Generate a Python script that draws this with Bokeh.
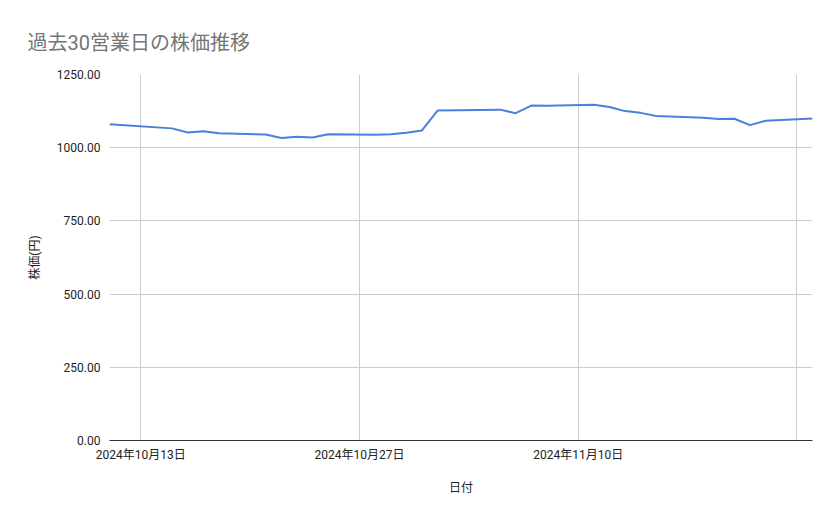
from datetime import datetime

from bokeh.embed import file_html
from bokeh.models import FixedTicker, NumeralTickFormatter, Range1d
from bokeh.plotting import figure
from bokeh.resources import INLINE

# 営業日ごとの終値
dates = [
    "2024-10-11", "2024-10-15", "2024-10-16", "2024-10-17", "2024-10-18",
    "2024-10-21", "2024-10-22", "2024-10-23", "2024-10-24", "2024-10-25",
    "2024-10-28", "2024-10-29", "2024-10-30", "2024-10-31", "2024-11-01",
    "2024-11-05", "2024-11-06", "2024-11-07", "2024-11-08", "2024-11-11",
    "2024-11-12", "2024-11-13", "2024-11-14", "2024-11-15", "2024-11-18",
    "2024-11-19", "2024-11-20", "2024-11-21", "2024-11-22", "2024-11-25",
]
prices = [
    1080, 1066, 1052, 1056, 1049,
    1045, 1033, 1037, 1035, 1046,
    1044, 1046, 1051, 1059, 1127,
    1130, 1118, 1144, 1143, 1147,
    1139, 1125, 1119, 1108, 1102,
    1098, 1099, 1077, 1092, 1100,
]

grid_dates = ["2024-10-13", "2024-10-27", "2024-11-10", "2024-11-24"]
tick_labels = ["2024年10月13日", "2024年10月27日", "2024年11月10日"]
y_ticks = [0, 250, 500, 750, 1000, 1250]

x = [datetime.strptime(d, "%Y-%m-%d") for d in dates]


def ms(d):
    return datetime.strptime(d, "%Y-%m-%d").timestamp() * 1000


FONT = "Roboto, 'Noto Sans CJK JP', sans-serif"

p = figure(
    width=831, height=511,
    x_axis_type="datetime",
    output_backend="svg", toolbar_location=None,
    min_border_left=109, min_border_right=19,
    min_border_top=74, min_border_bottom=71,
    title="過去30営業日の株価推移",
)
p.x_range = Range1d(ms("2024-10-11"), ms("2024-11-25"))
p.y_range = Range1d(0, 1250)

p.line(x, prices, line_color="#4a7fdc", line_width=2)

p.title.text_font = FONT
p.title.text_font_size = "20px"
p.title.text_font_style = "normal"
p.title.text_color = "#757575"
p.title.align = "left"
p.title.offset = -82
p.title.standoff = 39

# x軸
p.xaxis.ticker = FixedTicker(ticks=[ms(d) for d in grid_dates[:3]])
p.xaxis.major_label_overrides = {ms(d): lab for d, lab in zip(grid_dates, tick_labels)}
p.xaxis.axis_label = "日付"
p.xaxis.axis_line_color = "#333333"
p.xaxis.major_tick_line_color = None
p.xaxis.minor_tick_line_color = None
p.xaxis.major_label_standoff = 1
p.xaxis.axis_label_standoff = 16
p.xgrid.ticker = FixedTicker(ticks=[ms(d) for d in grid_dates])
p.xgrid.grid_line_color = "#cccccc"

# y軸
p.yaxis.ticker = FixedTicker(ticks=y_ticks)
p.yaxis.formatter = NumeralTickFormatter(format="0.00")
p.yaxis.axis_label = "株価(円)"
p.yaxis.axis_line_color = None
p.yaxis.major_tick_line_color = None
p.yaxis.minor_tick_line_color = None
p.yaxis.major_label_standoff = 3
p.yaxis.axis_label_standoff = 12
p.ygrid.grid_line_color = "#cccccc"

for ax in (p.xaxis, p.yaxis):
    ax.major_label_text_font = FONT
    ax.major_label_text_font_size = "12px"
    ax.major_label_text_color = "#222222"
    ax.axis_label_text_font = FONT
    ax.axis_label_text_font_size = "12px"
    ax.axis_label_text_font_style = "normal"
    ax.axis_label_text_color = "#222222"

p.outline_line_color = None

open("out.html", "w").write(file_html(p, INLINE))
